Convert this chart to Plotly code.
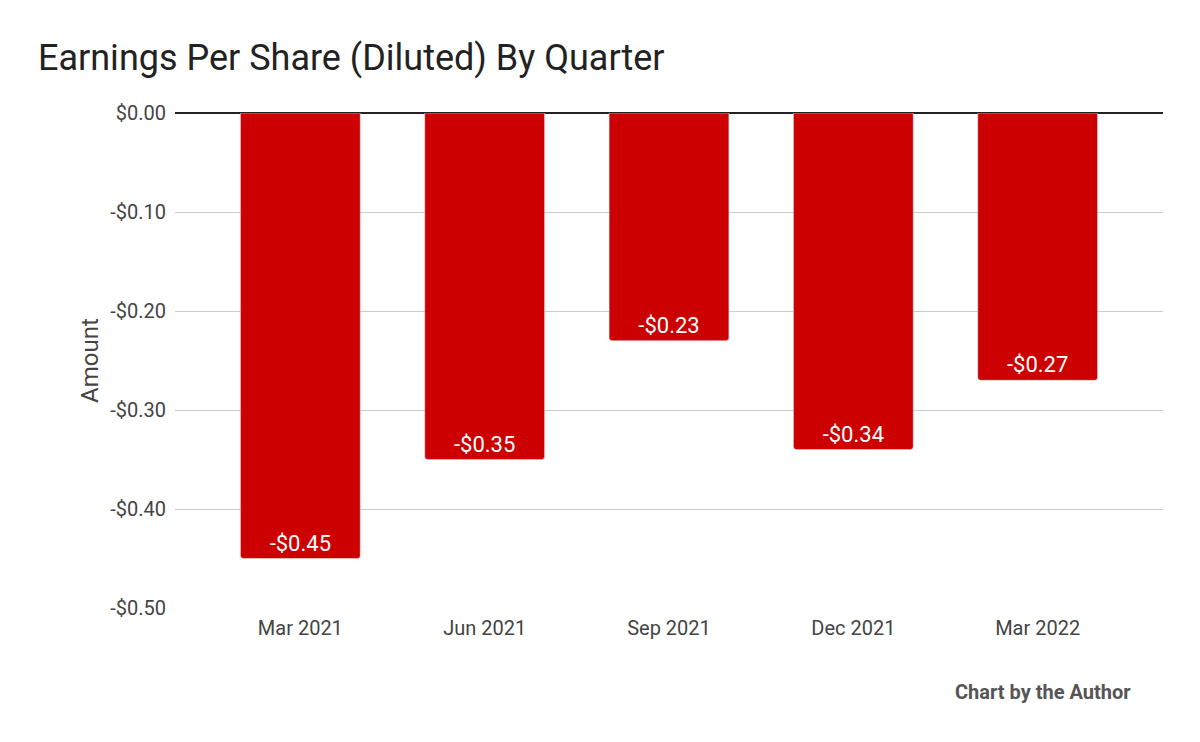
import plotly.graph_objects as go

quarters = ["Mar 2021", "Jun 2021", "Sep 2021", "Dec 2021", "Mar 2022"]
eps = [-0.45, -0.35, -0.23, -0.34, -0.27]
labels = ["-$0.45", "-$0.35", "-$0.23", "-$0.34", "-$0.27"]
tick_vals = [0, -0.1, -0.2, -0.3, -0.4, -0.5]
tick_text = ["$0.00", "-$0.10", "-$0.20", "-$0.30", "-$0.40", "-$0.50"]

L, R, T, B = 167, 1155, 105, 600

fig = go.Figure(go.Bar(
    x=list(range(len(quarters))), y=eps, text=labels, textposition="inside", insidetextanchor="end",
    textfont=dict(color="white", size=22, family="Roboto"),
    marker=dict(color="#cc0000", cornerradius=3), width=0.65,
))
fig.update_layout(
    width=1200, height=742, paper_bgcolor="white", plot_bgcolor="white",
    margin=dict(l=L, r=1200 - R, t=T, b=742 - B),
    font=dict(family="Roboto", color="#444", size=20),
    title=dict(text="Earnings Per Share (Diluted) By Quarter", x=30 / 1200, y=1 - 49 / 742,
               xanchor="left", yanchor="middle", font=dict(size=36, color="#222")),
    showlegend=False,
    annotations=[dict(text="<b>Chart by the Author</b>", x=(1125 - L) / (R - L),
                      y=-(684 - B) / (B - T), xref="paper", yref="paper",
                      showarrow=False, font=dict(size=20, color="#555"),
                      xanchor="right", yanchor="middle")],
)
fig.update_yaxes(range=[-0.5, 0], tickvals=tick_vals, ticktext=tick_text, showgrid=True,
                 gridcolor="#ccc", zeroline=True, zerolinecolor="#222", zerolinewidth=1.5,
                 title=dict(text="Amount", standoff=4), ticklabelstandoff=8)
fig.update_xaxes(range=[-0.68, 4.68], tickvals=list(range(len(quarters))), ticktext=quarters,
                 showgrid=False, ticklabelstandoff=6)
fig.write_html("out.html")
